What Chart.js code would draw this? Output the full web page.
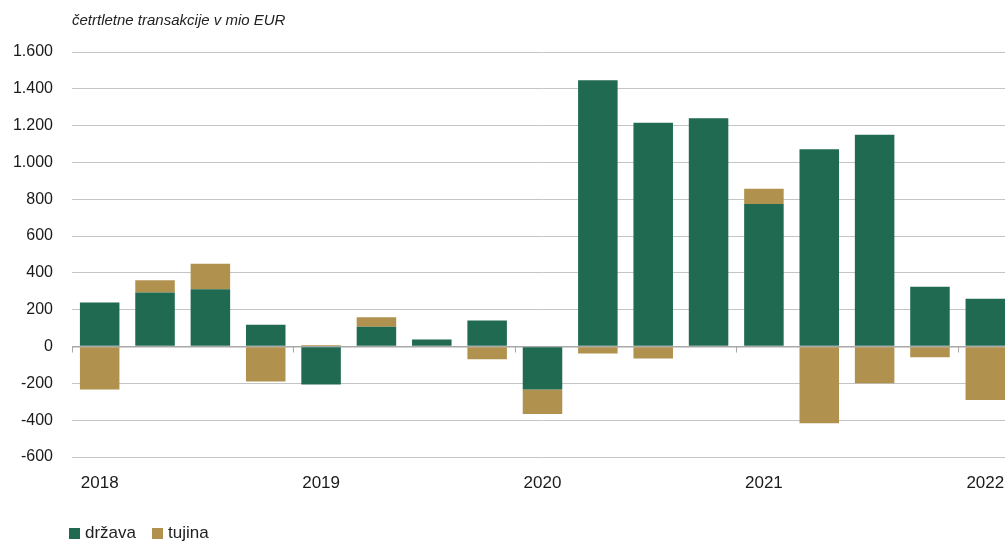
<!DOCTYPE html>
<html lang="sl">
<head>
<meta charset="UTF-8">
<title>Transakcije</title>
<script src="https://cdn.jsdelivr.net/npm/chart.js@4/dist/chart.umd.min.js"></script>
<style>
    html, body { margin: 0; padding: 0; background: #fff; overflow: hidden; }
    body { width: 1005px; height: 542px; position: relative; font-family: "Liberation Sans", Arial, sans-serif; }
    #wrap { position: absolute; left: 0; top: 0; width: 1013px; height: 542px; }
    #title { position: absolute; left: 72px; top: 11px; font-size: 15px; font-style: italic; color: #222; }
    #legend { position: absolute; left: 69px; top: 523px; font-size: 17px; color: #222; display: flex; }
    #legend span.item { display: flex; align-items: center; margin-right: 16px; }
    #legend span.box { width: 11px; height: 11px; display: inline-block; margin-right: 5px; }
</style>
</head>
<body>
<div id="wrap"><canvas id="chart" width="1013" height="542" style="width:1013px;height:542px"></canvas></div>
<div id="title">četrtletne transakcije v mio EUR</div>
<div id="legend"></div>
<script>
// quarters 2018 Q1 - 2022 Q1
const quarters = ['2018 Q1', '2018 Q2', '2018 Q3', '2018 Q4',
    '2019 Q1', '2019 Q2', '2019 Q3', '2019 Q4',
    '2020 Q1', '2020 Q2', '2020 Q3', '2020 Q4',
    '2021 Q1', '2021 Q2', '2021 Q3', '2021 Q4',
    '2022 Q1'];
const drzava = [239, 293, 311, 118, -206, 108, 38, 141, -233, 1446, 1216, 1240, 775, 1072, 1151, 325, 260];
const tujina = [-233, 67, 139, -190, 8, 51, 0, -69, -134, -38, -65, 0, 82, -416, -200, -58, -291];
const seriesNames = ['država', 'tujina'];
const seriesColors = ['#206a51', '#b0924e'];

const yMin = -600;
const yMax = 1600;
const yStep = 200;

// small tick marks on the zero line, one per year
const zeroTicks = {
    id: 'zeroTicks',
    afterDatasetsDraw(chart) {
        const x = chart.scales.x;
        const y = chart.scales.y;
        const y0 = y.getPixelForValue(0);
        const w = (x.right - x.left) / quarters.length;
        const c = chart.ctx;
        c.save();
        c.strokeStyle = '#a8a8a8';
        c.lineWidth = 1;
        for (let i = 0; i < quarters.length; i += 4) {
            const px = Math.round(x.getPixelForValue(i) - w / 2) + 0.5;
            c.beginPath();
            c.moveTo(px, y0);
            c.lineTo(px, y0 + 6);
            c.stroke();
        }
        c.restore();
    }
};

const ctx = document.getElementById('chart').getContext('2d');
const chart = new Chart(ctx, {
    type: 'bar',
    data: {
        labels: quarters,
        datasets: [
            { label: seriesNames[0], data: drzava, backgroundColor: seriesColors[0] },
            { label: seriesNames[1], data: tujina, backgroundColor: seriesColors[1] }
        ]
    },
    options: {
        responsive: false,
        animation: false,
        devicePixelRatio: 1,
        layout: { padding: { top: 52, bottom: 44, left: 0, right: 0 } },
        datasets: {
            bar: { categoryPercentage: 1, barPercentage: 0.714, borderWidth: 0 }
        },
        plugins: {
            legend: { display: false },
            tooltip: { enabled: false }
        },
        scales: {
            x: {
                stacked: true,
                grid: { display: false, drawTicks: false },
                border: { display: false },
                afterFit: s => { s.height = 41; s.paddingRight = 0; s.paddingLeft = 0; },
                ticks: {
                    autoSkip: false,
                    maxRotation: 0,
                    padding: 16,
                    color: '#1a1a1a',
                    font: { family: 'Liberation Sans', size: 17 },
                    callback: (v, i) => (i % 4 === 0 ? quarters[i].slice(0, 4) : '')
                }
            },
            y: {
                stacked: true,
                min: yMin,
                max: yMax,
                afterFit: s => { s.width = 72; },
                grid: {
                    drawTicks: false,
                    color: c => (c.tick.value === 0 ? '#a8a8a8' : '#c4c4c4'),
                    lineWidth: c => (c.tick.value === 0 ? 1.5 : 1)
                },
                border: { display: false },
                ticks: {
                    stepSize: yStep,
                    padding: 19,
                    color: '#1a1a1a',
                    font: { family: 'Liberation Sans', size: 16 },
                    callback: v => v.toLocaleString('de-DE')
                }
            }
        }
    },
    plugins: [zeroTicks]
});

// legend
const legendEl = document.getElementById('legend');
seriesNames.forEach((name, i) => {
    const item = document.createElement('span');
    item.className = 'item';
    const box = document.createElement('span');
    box.className = 'box';
    box.style.background = seriesColors[i];
    item.appendChild(box);
    item.appendChild(document.createTextNode(name));
    legendEl.appendChild(item);
});
</script>
</body>
</html>
